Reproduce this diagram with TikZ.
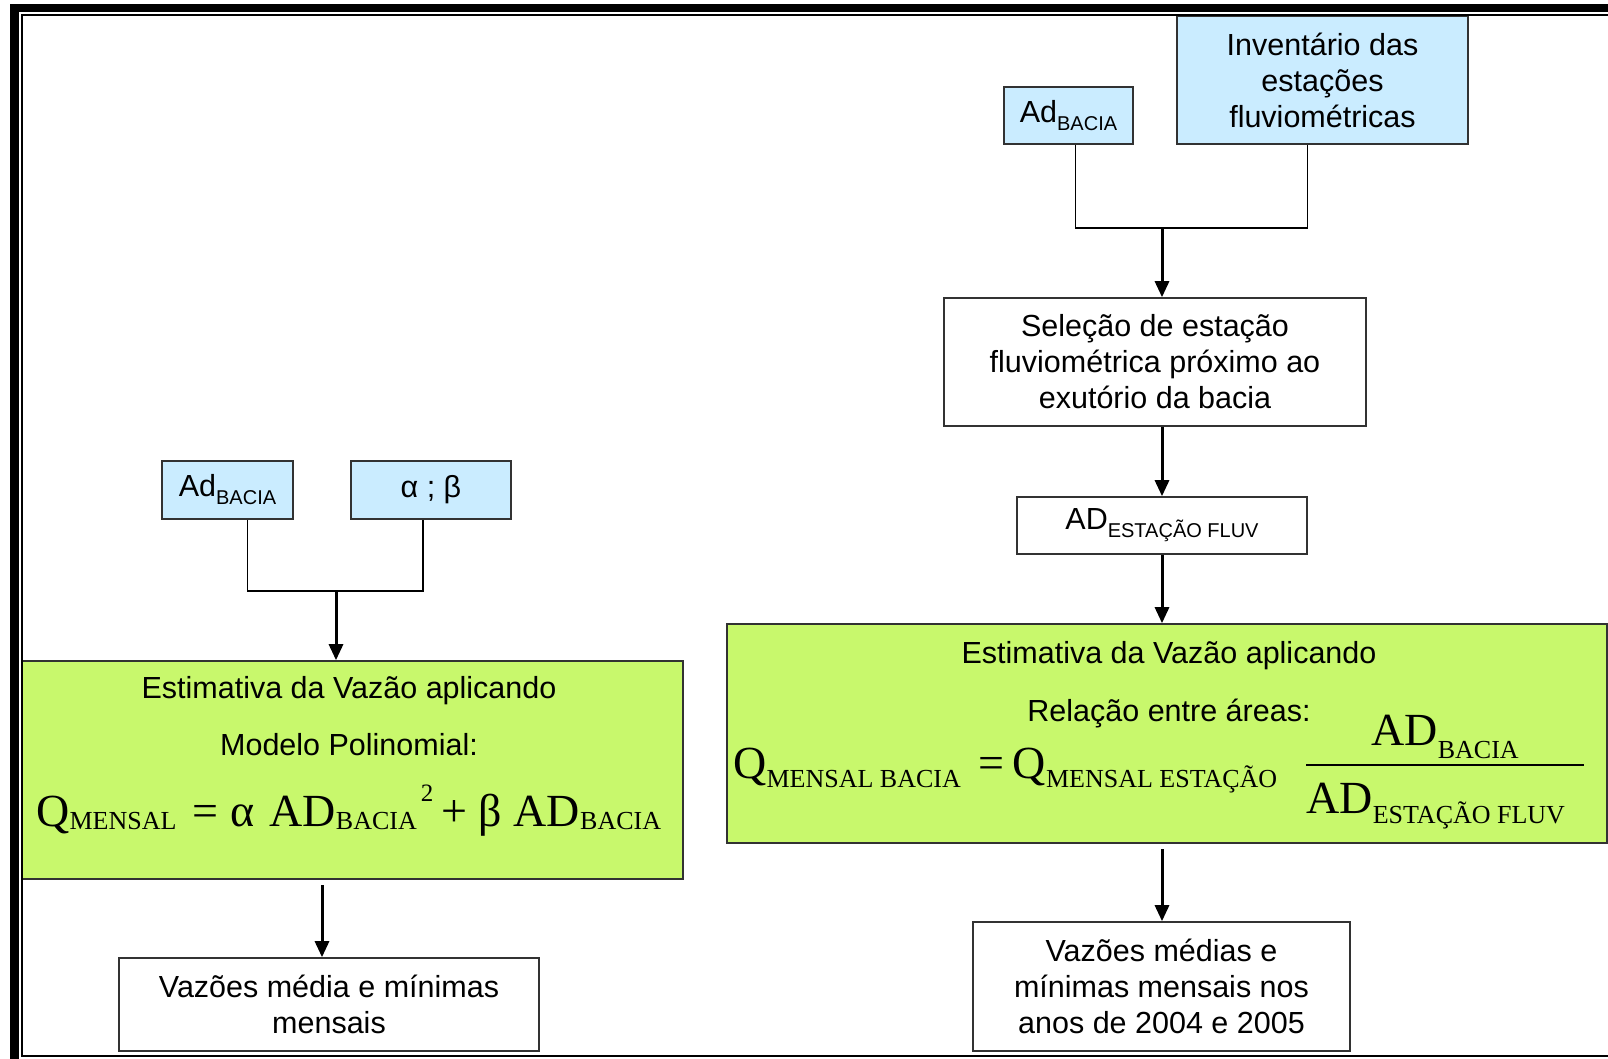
\documentclass[tikz,border=0pt]{standalone}
\usepackage{fontspec}
\setmainfont{Liberation Sans}
\newfontfamily\eqfont{Liberation Serif}
\usetikzlibrary{arrows.meta,positioning}

\definecolor{skyfill}{RGB}{202,236,255}
\definecolor{limefill}{RGB}{200,248,108}
\definecolor{edgegray}{RGB}{50,50,50}

\newcommand{\boxfont}{\fontsize{15.25pt}{18pt}\selectfont}
\newcommand{\lowtag}[1]{\raisebox{-4pt}{\fontsize{10pt}{10pt}\selectfont #1}}
\newcommand{\eqbig}{\eqfont\fontsize{23pt}{23pt}\selectfont}
\newcommand{\eqsub}[2][4.5pt]{\raisebox{-#1}{\fontsize{13pt}{13pt}\selectfont #2}}
\newcommand{\eqsup}[1]{\raisebox{12.5pt}{\fontsize{12.5pt}{12.5pt}\selectfont #1}}

\tikzset{
  box/.style={draw=edgegray, line width=0.8pt, inner sep=0pt, align=center, font=\boxfont},
  bluebox/.style={box, fill=skyfill},
  greenbox/.style={box, fill=limefill},
  link/.style={draw=black, line width=0.75pt},
  flow/.style={draw=black, line width=1.5pt, -{Triangle[width=7pt,length=8pt]}},
  textline/.style={inner sep=0pt, anchor=base, font=\boxfont},
  eqtext/.style={inner sep=0pt, anchor=base west, font=\eqbig},
}

\begin{document}
\begin{tikzpicture}[x=0.5pt, y=-0.5pt]
    \fill[white] (0,0) rectangle (1608,1059);
    \useasboundingbox (0,0) rectangle (1608,1059);

    % right branch
    \node (inv) [bluebox, minimum width=145.5pt, minimum height=64pt] at (1322.5, 80) {Inventário das\\estações\\fluviométricas};
    \node (adR) [bluebox, minimum width=64.5pt, minimum height=28.5pt] at (1068.5, 115.5) {Ad\lowtag{BACIA}};
    \node (sel) [box, minimum width=211pt, minimum height=64pt] at (1155, 362) {Seleção de estação\\fluviométrica próximo ao\\exutório da bacia};
    \node (adE) [box, minimum width=145pt, minimum height=28.5pt] at (1162, 525.5) {AD\lowtag{ESTAÇÃO FLUV}};
    \node (greenR) [greenbox, minimum width=440pt, minimum height=109.5pt] at (1167, 733.5) {};
    \node (outR) [box, minimum width=188.5pt, minimum height=64.5pt] at (1161.5, 986.5) {Vazões médias e\\mínimas mensais nos\\anos de 2004 e 2005};

    \node (estR) [textline] at (1169, 663) {Estimativa da Vazão aplicando};
    \node (relR) [textline] at (1169, 721) {Relação entre áreas:};
    \node (fR) [eqtext] at (733, 778) {Q\eqsub{MENSAL BACIA}\hspace{9pt}=\hspace{4pt}Q\eqsub{MENSAL ESTAÇÃO}};
    \node (bar) [fill=black, inner sep=0pt, minimum width=139pt, minimum height=1pt] at (1445, 765) {};
    \node (num) [eqtext] at (1371, 745) {AD\eqsub[6.5pt]{BACIA}};
    \node (den) [eqtext] at (1306, 813) {AD\eqsub[5pt]{ESTAÇÃO FLUV}};

    % left branch
    \node (adL) [bluebox, minimum width=65.5pt, minimum height=29pt] at (227.5, 490) {Ad\lowtag{BACIA}};
    \node (ab) [bluebox, minimum width=80pt, minimum height=29pt] at (431, 490) {α ; β};
    \node (greenL) [greenbox, minimum width=330.5pt, minimum height=109pt] at (352.5, 770) {};
    \node (outL) [box, minimum width=210pt, minimum height=46.5pt] at (329, 1004.5) {Vazões média e mínimas\\mensais};

    \node (estL) [textline] at (349, 698) {Estimativa da Vazão aplicando};
    \node (modL) [textline] at (349, 755) {Modelo Polinomial:};
    \node (fL) [eqtext] at (36, 826) {Q\eqsub[1.5pt]{MENSAL}\hspace{8pt}=\hspace{6pt}α\hspace{7.5pt}AD\eqsub[1.5pt]{BACIA}\hspace{2pt}\eqsup{2}\hspace{4pt}+\hspace{5.5pt}β\hspace{6pt}AD\eqsub[1.5pt]{BACIA}};

    \coordinate (jR) at (1162, 228);
    \coordinate (jL) at (336, 591);
    \coordinate (fromR) at (1162, 849);
    \coordinate (fromL) at (322, 885);

    \draw[link] ([xshift=3.5pt]adR.south) |- (jR) -| ([xshift=-7.5pt]inv.south);
    \draw[link] ([xshift=10pt]adL.south) |- (jL) -| ([xshift=-4pt]ab.south);

    \path
    (jR) edge[flow] (jR |- sel.north)
    (jR |- sel.south) edge[flow] (adE.north)
    (adE.south) edge[flow] (adE.south |- greenR.north)
    (fromR) edge[flow] (fromR |- outR.north)
    (jL) edge[flow] (jL |- greenL.north)
    (fromL) edge[flow] (fromL |- outL.north);

    % frame
    \fill (10,4) rectangle (1608,12);
    \fill (10,4) rectangle (19,1059);
    \fill (21,14) rectangle (1608,16);
    \fill (21,14) rectangle (23,1057);
    \fill (21,1055) rectangle (1608,1057);
\end{tikzpicture}
\end{document}
